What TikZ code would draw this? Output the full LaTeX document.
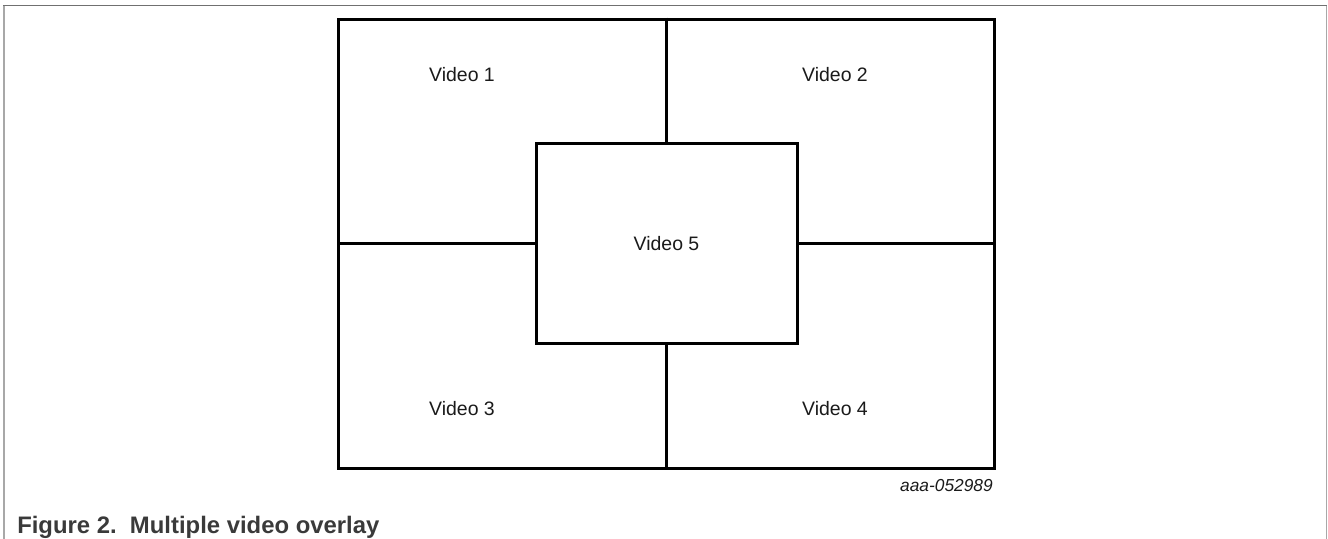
\documentclass[tikz,border=0pt]{standalone}
\usepackage{fontspec}
\setmainfont{Liberation Sans}
\usetikzlibrary{calc}
\usetikzlibrary{positioning}

\definecolor{framegray}{HTML}{A8A8A8}
\definecolor{topgray}{HTML}{707070}
\definecolor{capgray}{HTML}{3A3A3A}
\definecolor{txt}{HTML}{1A1A1A}

\tikzset{
  pane/.style={draw=black, line width=2.25pt},
  vlabel/.style={text=txt, font=\fontsize{14.6}{17}\selectfont, inner sep=0},
}

\begin{document}
\begin{tikzpicture} [x=0.75pt, y=-0.75pt]
\useasboundingbox (0,0) rectangle (1328,539);
% page frame
\draw[topgray, line width=1.1pt] (3,5.5)--(1327,5.5);
\draw[framegray, line width=1.1pt] (4,5.5)--(4,539);
\draw[framegray, line width=1.1pt] (1326.5,5.5)--(1326.5,539);
% screen and the four quarters
\node[pane, minimum width=656*0.75pt, minimum height=449*0.75pt, inner sep=0, anchor=north west] (screen) at (337,17.5) {};
\draw[pane] (screen.north) -- (screen.south);
\draw[pane] (screen.west) -- (screen.east);
% overlay window
\node[pane, fill=white, minimum width=261*0.75pt, minimum height=200*0.75pt, inner sep=0] (v5) at (screen.center) {};
\node[vlabel] (l5) at (v5.center) {Video 5};
\foreach \n/\x/\y in {1/462/75, 2/835/75, 3/462/409, 4/835/409} {
 \node[vlabel] (l\n) at (\x,\y) {Video \n};
}
\node[anchor=east, inner sep=0, text=txt, font=\fontsize{13}{15}\selectfont\itshape] (fig id) at (993,486) {aaa-052989};
\node[anchor=base west, inner sep=0, text=capgray, font=\fontsize{17.9}{21}\selectfont\bfseries] (caption) at (17,533) {Figure 2.\ \ Multiple video overlay};
\end{tikzpicture}
\end{document}
